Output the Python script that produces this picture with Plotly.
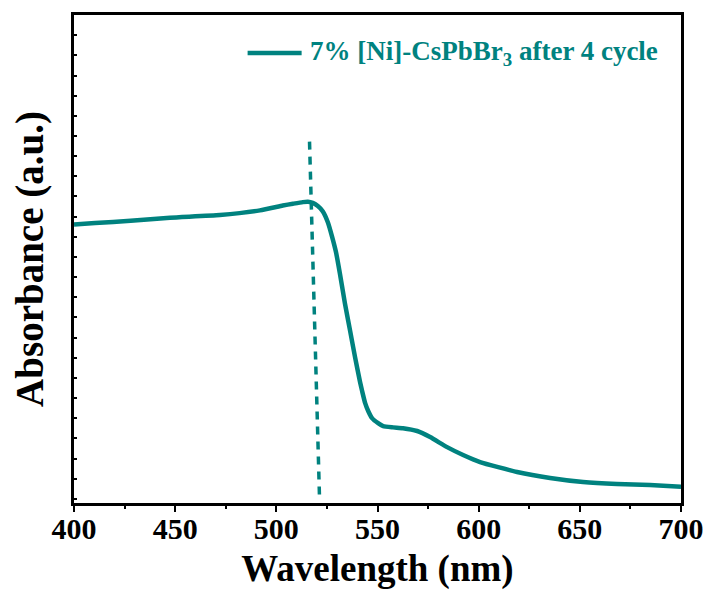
import plotly.graph_objects as go

wavelength = [400, 410.4, 428.0, 447.4, 472.1, 491.9, 503.2, 508.2, 513.1, 515.6, 518.0,
              520.5, 523.0, 525.5, 527.5, 529.5, 531.4, 533.9, 536.4, 538.9, 541.4, 542.4,
              543.9, 545.4, 547.3, 550.3, 552.8, 557.7, 562.6, 569.6, 576.0, 584.4,
              592.3, 600.7, 619.0, 635.3, 651.6, 668.4, 684.7, 700]
absorbance = [13.61, 13.68, 13.80, 13.95, 14.08, 14.31, 14.55, 14.64, 14.72, 14.74, 14.68,
              14.53, 14.26, 13.71, 13.02, 12.23, 11.19, 9.70, 8.37, 7.03, 5.79, 5.35,
              4.75, 4.36, 4.01, 3.76, 3.61, 3.55, 3.51, 3.37, 3.07, 2.57,
              2.18, 1.83, 1.34, 1.04, 0.84, 0.74, 0.69, 0.61]
edge_x = [516.4, 521.3]
edge_y = [17.72, 0.2]
series_name = "7% [Ni]-CsPbBr<sub>3</sub> after 4 cycle"
x_ticks = [400, 450, 500, 550, 600, 650, 700]

teal = "#00827F"
font_family = "Liberation Serif, Times New Roman, serif"

fig = go.Figure()
fig.add_trace(go.Scatter(x=wavelength, y=absorbance, mode="lines", name=series_name,
                         showlegend=False,
                         line=dict(color=teal, width=4.5, shape="spline", smoothing=0.5)))
fig.add_trace(go.Scatter(x=edge_x, y=edge_y, mode="lines", showlegend=False,
                         line=dict(color=teal, width=3.5, dash="8px,7px")))

# legend drawn manually (longer line sample than plotly's built-in legend)
fig.add_shape(type="line", xref="paper", yref="paper", x0=0.286, x1=0.375, y0=0.922, y1=0.922,
              line=dict(color=teal, width=4.5))
fig.add_annotation(xref="paper", yref="paper", x=0.386, y=0.922, xanchor="left", yanchor="middle",
                   text=series_name, showarrow=False,
                   font=dict(family=font_family, size=27, color=teal, weight="bold"))

fig.update_layout(
    width=708, height=591,
    margin=dict(l=74, r=27, t=15, b=88),
    plot_bgcolor="white", paper_bgcolor="white",
    font=dict(family=font_family, color="black", weight="bold"),
    showlegend=False,
    xaxis=dict(range=[400, 700], tickvals=x_ticks, ticks="outside", ticklen=6, tickwidth=2,
               tickcolor="black", showline=True, linewidth=2.5, linecolor="black",
               mirror=True, showgrid=False, zeroline=False, automargin=False,
               ticklabelstandoff=-9,
               tickfont=dict(size=30, family=font_family, weight="bold"),
               minor=dict(dtick=25, ticks="outside", ticklen=3, tickwidth=1.5, tickcolor="black"),
               title=dict(text="Wavelength (nm)", font=dict(size=37, family=font_family, weight="bold"),
                          standoff=12)),
    yaxis=dict(range=[-0.2, 24.0], dtick=1, tick0=0, ticks="inside", ticklen=3, tickwidth=1.5,
               tickcolor="black", showticklabels=False, showline=True, linewidth=2.5,
               linecolor="black", mirror=True, showgrid=False, zeroline=False, automargin=False,
               title=dict(text="Absorbance (a.u.)", font=dict(size=39, family=font_family, weight="bold"),
                          standoff=16)),
)

fig.write_html("out.html")
